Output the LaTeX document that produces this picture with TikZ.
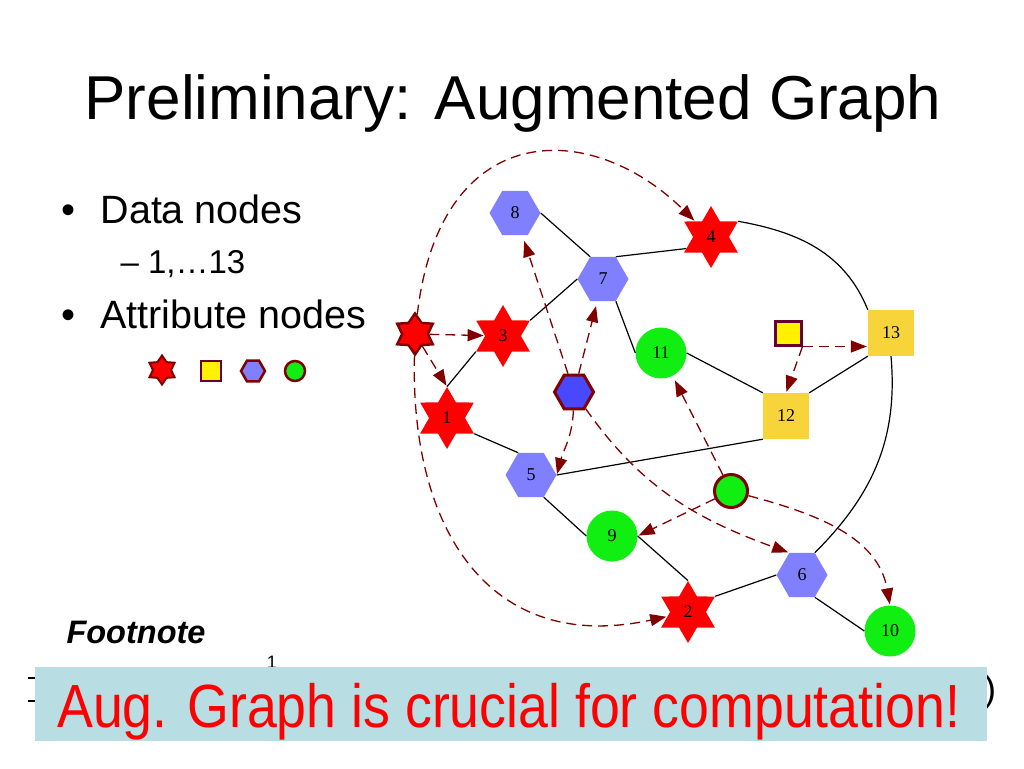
\documentclass[tikz,border=0pt]{standalone}
\usepackage{fontspec}
\setmainfont{Liberation Sans}
\newfontfamily\serifnum{Liberation Serif}
\usetikzlibrary{shapes.geometric,arrows.meta}
\definecolor{dred}{RGB}{128,0,0}
\definecolor{hexblue}{RGB}{128,128,255}
\definecolor{gold}{RGB}{247,212,58}
\definecolor{lgreen}{RGB}{17,238,17}
\definecolor{bannerbg}{RGB}{184,221,227}
\definecolor{sqpurple}{RGB}{102,0,51}
\definecolor{attrblue}{RGB}{72,72,255}
\begin{document}
\begin{tikzpicture}[x=1pt,y=-1pt,
  lab/.style={font=\serifnum\fontsize{18}{18}\selectfont},
  dstar/.style={star,star points=6,star point ratio=1.73,minimum size=62pt,inner sep=0pt,fill=red,lab},
  dhex/.style={regular polygon,regular polygon sides=6,minimum size=51pt,inner sep=0pt,fill=hexblue,lab},
  dcirc/.style={circle,minimum size=51pt,inner sep=0pt,fill=lgreen,lab},
  dsq/.style={rectangle,minimum size=46pt,inner sep=0pt,fill=gold,lab},
  astar/.style={star,star points=6,star point ratio=1.6,inner sep=0pt,fill=red,draw=dred,line width=2.5pt},
  ahex/.style={regular polygon,regular polygon sides=6,inner sep=0pt,draw=dred,line width=3pt},
  asq/.style={rectangle,inner sep=0pt,fill=yellow,draw=sqpurple,line width=3pt},
  acirc/.style={circle,inner sep=0pt,fill=lgreen,draw=dred,line width=3pt},
  edge/.style={draw=black,line width=1.2pt},
  dlink/.style={draw=dred,line width=1.3pt,dash pattern=on 10pt off 6pt,-{Triangle[length=16pt,width=12pt]},shorten >=1pt}
]
\useasboundingbox (0,0) rectangle (1024,768);

% title and text
\node[anchor=base,font=\fontsize{62}{62}\selectfont] (title) at (513,119) {Preliminary: Augmented Graph};
\node[anchor=base west,font=\fontsize{40}{40}\selectfont] (b1) at (58,223) {•};
\node[anchor=base west,font=\fontsize{39.5}{40}\selectfont] (t1) at (97,223) {Data nodes};
\node[anchor=base west,font=\fontsize{33}{33}\selectfont] (t2) at (117,273) {– 1,…13};
\node[anchor=base west,font=\fontsize{40}{40}\selectfont] (b2) at (58,328) {•};
\node[anchor=base west,font=\fontsize{39.5}{40}\selectfont] (t3) at (97,328) {Attribute nodes};
\node[anchor=base west,font=\bfseries\itshape\fontsize{32.5}{33}\selectfont] (fn) at (63,643) {Footnote};

% legend
\node[astar,minimum size=29pt,line width=2pt] (l1) at (162,370) {};
\node[asq,minimum size=20pt,line width=2.5pt] (l2) at (211,371) {};
\node[ahex,fill=hexblue,minimum size=24pt,line width=2.5pt] (l3) at (253,371) {};
\node[acirc,minimum size=20pt,line width=2.5pt] (l4) at (295,371) {};

% data nodes
\node[dhex] (n8) at (515,213) {8};
\node[dhex] (n7) at (603,279) {7};
\node[dstar] (n4) at (711,237) {4};
\node[dstar] (n3) at (503,336) {3};
\node[dstar] (n1) at (447,418) {1};
\node[dcirc] (n11) at (661,353) {11};
\node[dsq] (n13) at (891,333) {13};
\node[dsq] (n12) at (786,416) {12};
\node[dhex] (n5) at (531,475) {5};
\node[dcirc] (n9) at (612,536) {9};
\node[dhex] (n6) at (802,575) {6};
\node[dstar] (n2) at (688,612) {2};
\node[dcirc] (n10) at (890,631) {10};

% attribute nodes
\node[astar,minimum size=41pt] (as) at (415,334) {};
\node[ahex,fill=attrblue,minimum size=39pt] (ah) at (574,392) {};
\node[asq,minimum width=26pt,minimum height=24pt] (aq) at (788,333) {};
\node[acirc,minimum size=33pt] (ac) at (731,491) {};

% solid edges
\draw[edge] (n8.east) -- (n7.120);
\draw[edge] (n7.60) -- (n4.205);
\draw[edge] (n7.west) -- (n3.30);
\draw[edge] (n7.-60) -- (n11.west);
\draw[edge] (n3.210) -- (n1.north);
\draw[edge] (n1.330) -- (n5.120);
\draw[edge] (n5.east) -- (n12.south west);
\draw[edge] (n5.-60) -- (n9.west);
\draw[edge] (n9.east) -- (n2.north);
\draw[edge] (n2.30) -- (n6.west);
\draw[edge] (n6.-60) -- (n10.west);
\draw[edge] (n11.east) -- (n12.north west);
\draw[edge] (n12.north east) -- (n13.south west);
\draw[edge] (n4.30) to[out=-10,in=112] (n13.north west);
\draw[edge] (n13.south) to[out=-85,in=45] (n6.60);

% dashed attribute links
\draw[dlink] (as) -- (n3);
\draw[dlink] (as) -- (n1.north);
\draw[dlink] (as) .. controls (440,118) and (590,118) .. (n4);
\draw[dlink] (as) .. controls (410,530) and (490,655) .. (n2);
\draw[dlink,shorten >=6pt] (ah) -- (n8);
\draw[dlink,shorten >=5pt] (ah) -- (n7);
\draw[dlink] (ah) to[out=-92,in=75] (n5.east);
\draw[dlink] (ah) to[out=-55,in=160] (n6.120);
\draw[dlink] (aq.south east) -- (aq.south east -| n13.west);
\draw[dlink] (aq.south east) -- (n12.north);
\draw[dlink,shorten >=5pt] (ac) -- (n11);
\draw[dlink] (ac) -- (n9.east);
\draw[dlink] (ac) to[out=-15,in=100] (n10.north);

% partly hidden footnote text
\node[font=\fontsize{18}{18}\selectfont] (fn1) at (272,662) {1};
\node[font=\fontsize{36}{36}\selectfont] (fnp) at (990,692) {)};
\coordinate (tk1) at (28,678);
\coordinate (tk2) at (28,701);
\draw[line width=1.2pt] (tk1) -- ++(8,0);
\draw[line width=1.2pt] (tk2) -- ++(8,0);

% banner
\node[fill=bannerbg,minimum width=952pt,minimum height=74pt,inner sep=0pt,anchor=north west] (banner) at (35,667) {};
\node[anchor=base west,text=red,font=\fontsize{61}{61}\selectfont,inner sep=0pt] (msg) at (57,727) {\scalebox{0.88}[1]{Aug. Graph is crucial for computation!}};
\end{tikzpicture}
\end{document}
